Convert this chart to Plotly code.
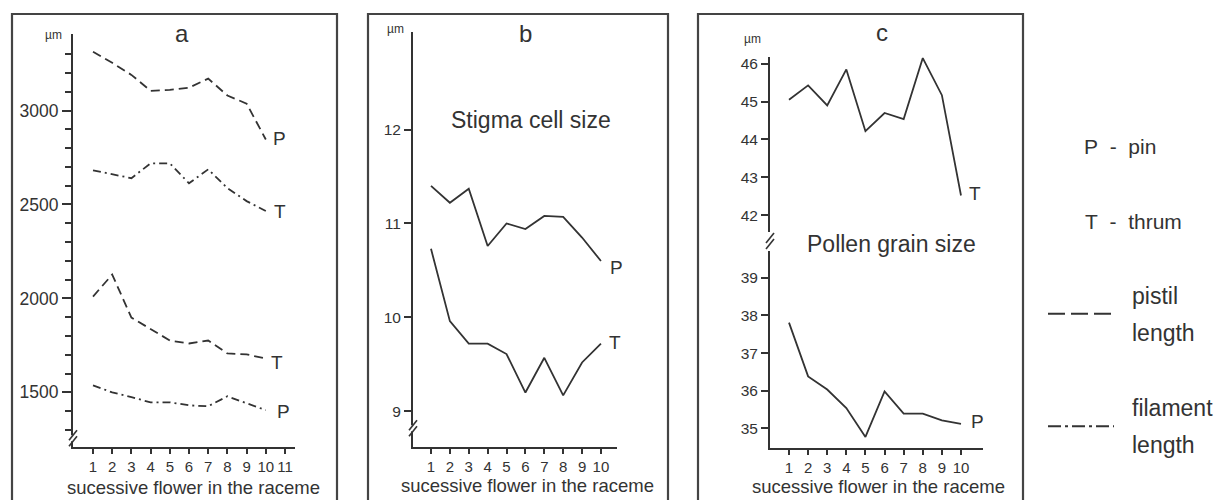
import plotly.graph_objects as go

# ---- data ----
flowers_a = list(range(1, 11))
flowers = list(range(1, 11))
ticks_a = list(range(1, 12))

# panel a: pistil and filament length (um)
pistil_pin = [3313, 3254, 3190, 3105, 3110, 3122, 3170, 3080, 3037, 2846]
filament_thrum = [2682, 2660, 2640, 2719, 2719, 2613, 2687, 2587, 2518, 2465]
pistil_thrum = [2010, 2127, 1898, 1839, 1776, 1760, 1776, 1707, 1702, 1680]
filament_pin = [1537, 1500, 1474, 1447, 1447, 1431, 1426, 1479, 1442, 1405]

# panel b: stigma cell size (um)
stigma_pin = [11.40, 11.22, 11.37, 10.76, 11.00, 10.94, 11.08, 11.07, 10.85, 10.60]
stigma_thrum = [10.73, 9.96, 9.72, 9.72, 9.61, 9.20, 9.57, 9.17, 9.52, 9.72]

# panel c: pollen grain size (um)
pollen_thrum = [45.05, 45.43, 44.90, 45.85, 44.22, 44.70, 44.54, 46.15, 45.17, 42.52]
pollen_pin = [37.81, 36.38, 36.03, 35.54, 34.77, 35.98, 35.39, 35.39, 35.21, 35.12]

yticks_a = [1500, 2000, 2500, 3000]
yminor_a = [v for v in range(1300, 3400, 100) if v % 500]
yticks_b = [9, 10, 11, 12]
yticks_c_up = [42, 43, 44, 45, 46]
yticks_c_low = [35, 36, 37, 38, 39]

# the page body adds an 8px margin, so the figure is made 8px smaller and
# every layout position below is given in page pixels, shifted by OFF
OFF = 8
W, H = 1223 - OFF, 500 - OFF
INK = '#333333'
FONT = 'Liberation Sans, Arial, sans-serif'
DASH = '9px,5px'
DASHDOT = '8px,4px,2px,4px'


def X(p):
    return (p - OFF) / W


def Y(p):
    return 1 - (p - OFF) / H


fig = go.Figure()


def line(x, y, dash, xa, ya):
    fig.add_trace(go.Scatter(x=x, y=y, mode='lines', xaxis=xa, yaxis=ya,
                             line=dict(color=INK, width=1.8, dash=dash),
                             showlegend=False, hoverinfo='skip'))


line(flowers_a, pistil_pin, DASH, 'x', 'y')
line(flowers_a, filament_thrum, DASHDOT, 'x', 'y')
line(flowers_a, pistil_thrum, DASH, 'x', 'y')
line(flowers_a, filament_pin, DASHDOT, 'x', 'y')
line(flowers, stigma_pin, 'solid', 'x2', 'y2')
line(flowers, stigma_thrum, 'solid', 'x2', 'y2')
line(flowers, pollen_thrum, 'solid', 'x3', 'y3')
line(flowers, pollen_pin, 'solid', 'x3', 'y4')

axis_common = dict(showline=True, linecolor=INK, linewidth=2, showgrid=False,
                   zeroline=False, ticks='outside', tickcolor=INK, tickwidth=2,
                   fixedrange=True)
xfont = dict(family=FONT, size=15, color=INK)

fig.update_layout(
    width=W, height=H, margin=dict(l=0, r=0, t=0, b=0),
    paper_bgcolor='white', plot_bgcolor='rgba(0,0,0,0)',
    font=dict(family=FONT, color=INK),
    xaxis=dict(domain=[X(73), X(295)], range=[-0.042, 11.52], anchor='y',
               tickvals=ticks_a, ticklen=5, tickfont=xfont, **axis_common),
    yaxis=dict(domain=[Y(447), Y(32)], range=[1208, 3408], anchor='x',
               tickvals=yticks_a, ticklen=9, tickfont=dict(family=FONT, size=17.5, color=INK),
               minor=dict(tickvals=yminor_a, ticklen=6, tickcolor=INK, tickwidth=2, ticks='outside'),
               **axis_common),
    xaxis2=dict(domain=[X(413), X(617)], range=[0.047, 10.85], anchor='y2',
                tickvals=flowers, ticklen=5, tickfont=xfont, **axis_common),
    yaxis2=dict(domain=[Y(447), Y(30)], range=[8.618, 13.039], anchor='x2',
                tickvals=yticks_b, ticklen=7, tickfont=dict(family=FONT, size=15.5, color=INK),
                **axis_common),
    xaxis3=dict(domain=[X(770), X(983)], range=[0.006, 11.151], anchor='y4',
                tickvals=flowers, ticklen=5, tickfont=xfont, **axis_common),
    yaxis3=dict(domain=[Y(231), Y(55)], range=[41.553, 46.184], anchor='x3',
                tickvals=yticks_c_up, ticklen=7, tickfont=dict(family=FONT, size=15.5, color=INK),
                **axis_common),
    yaxis4=dict(domain=[Y(448), Y(250)], range=[34.47, 39.715], anchor='x3',
                tickvals=yticks_c_low, ticklen=7, tickfont=dict(family=FONT, size=15.5, color=INK),
                **axis_common),
)

shapes = []
# panel frames (run off the bottom of the picture)
for x0, x1 in [(12, 337), (368, 668), (698, 1023)]:
    shapes.append(dict(type='rect', xref='paper', yref='paper',
                       x0=X(x0), x1=X(x1), y0=Y(520), y1=Y(12),
                       line=dict(color='#444444', width=2.2)))


# axis breaks "//"
def axis_break(xc, yc, gap=True):
    if gap:
        shapes.append(dict(type='rect', xref='paper', yref='paper',
                           x0=X(xc - 3), x1=X(xc + 3), y0=Y(yc + 3), y1=Y(yc - 3),
                           fillcolor='white', line=dict(width=0)))
    for dy in (-3, 3):
        shapes.append(dict(type='line', xref='paper', yref='paper',
                           x0=X(xc - 4), y0=Y(yc + dy + 5), x1=X(xc + 4), y1=Y(yc + dy - 5),
                           line=dict(color=INK, width=1.6)))


axis_break(73, 438)
axis_break(413, 428)
axis_break(770, 240, gap=False)

# legend line samples
shapes.append(dict(type='line', xref='paper', yref='paper', x0=X(1048), x1=X(1114),
                   y0=Y(313), y1=Y(313), line=dict(color=INK, width=2, dash='17px,6px')))
shapes.append(dict(type='line', xref='paper', yref='paper', x0=X(1048), x1=X(1114),
                   y0=Y(426), y1=Y(426), line=dict(color=INK, width=2, dash='13px,4px,3px,4px')))
fig.update_layout(shapes=shapes)

ann = []


def text(x, y, s, size, anchor='center'):
    ann.append(dict(xref='paper', yref='paper', x=X(x), y=Y(y), text=s, showarrow=False,
                    xanchor=anchor, yanchor='middle', font=dict(family=FONT, size=size, color=INK)))


def end_label(s, xa, ya, yv, xshift=6, yshift=0):
    ann.append(dict(xref=xa, yref=ya, x=10, y=yv, text=s, showarrow=False,
                    xanchor='left', yanchor='middle', xshift=xshift, yshift=yshift,
                    font=dict(family=FONT, size=19, color=INK)))


# panel letters, units, axis titles
text(182, 32, 'a', 24)
text(525, 32, 'b', 24)
text(882, 31, 'c', 24)
text(53, 33, 'µm', 12)
text(395, 27, 'µm', 12)
text(752, 37, 'µm', 12)
xlab = 'sucessive flower in the raceme'
text(193, 487, xlab, 18.5)
text(527, 485, xlab, 18.5)
text(878, 486, xlab, 18.5)
text(531, 118, 'Stigma cell size', 23)
text(892, 243, 'Pollen grain size', 23)

# P / T end labels
end_label('P', 'x', 'y', pistil_pin[-1], 5, 1)
end_label('T', 'x', 'y', filament_thrum[-1], 6)
end_label('T', 'x', 'y', pistil_thrum[-1], 3, -4)
end_label('P', 'x', 'y', filament_pin[-1], 9, -1)
end_label('P', 'x2', 'y2', stigma_pin[-1], 7, -6)
end_label('T', 'x2', 'y2', stigma_thrum[-1], 6, 1)
end_label('T', 'x3', 'y3', pollen_thrum[-1], 6, 2)
end_label('P', 'x3', 'y4', pollen_pin[-1], 8, 2)

# key
text(1082, 145, 'P\u00a0\u00a0-\u00a0\u00a0pin', 21, 'left')
text(1083, 220, 'T\u00a0\u00a0-\u00a0\u00a0thrum', 21, 'left')
text(1130, 295, 'pistil', 23, 'left')
text(1130, 332, 'length', 23, 'left')
text(1130, 408, 'filament', 23, 'left')
text(1130, 445, 'length', 23, 'left')

fig.update_layout(annotations=ann)

fig.write_html("out.html")
